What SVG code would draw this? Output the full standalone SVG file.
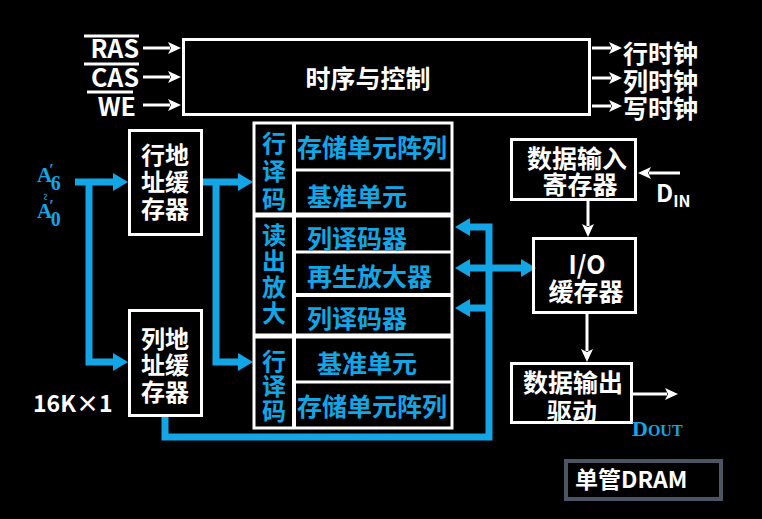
<svg xmlns="http://www.w3.org/2000/svg" width="762" height="519" viewBox="0 0 762 519">
<style>
.bg{fill:#000}
.box{fill:none;stroke:#fff;stroke-width:3}
.w{fill:#fff;font-family:"Noto Sans CJK SC","Liberation Sans",sans-serif;font-weight:bold}
.b{fill:#12a6e6;font-family:"Noto Sans CJK SC","Liberation Sans",sans-serif;font-weight:bold}
.serif{fill:#12a6e6;font-family:"Liberation Serif","DejaVu Serif",serif;font-weight:bold}
.wl{fill:none;stroke:#fff;stroke-width:3}
.bl{fill:none;stroke:#12a6e6;stroke-width:7}
.c{text-anchor:middle;dominant-baseline:central}
.m{dominant-baseline:central}
</style>
<defs>
<marker id="wa" markerUnits="userSpaceOnUse" markerWidth="14" markerHeight="14" refX="2" refY="7" orient="auto">
<path d="M0,1 L13,7 L0,13 L3,7 z" fill="#fff"/>
</marker>
<marker id="ba" markerUnits="userSpaceOnUse" markerWidth="16" markerHeight="18" refX="0" refY="9" orient="auto">
<path d="M0,0 L15,9 L0,18 z" fill="#12a6e6"/>
</marker>
</defs>
<rect class="bg" x="0" y="0" width="762" height="519"/>

<g id="connectors">
<path class="wl" d="M143,48 H170" marker-end="url(#wa)"/>
<path class="wl" d="M143,77 H170" marker-end="url(#wa)"/>
<path class="wl" d="M143,105 H170" marker-end="url(#wa)"/>
<path class="wl" d="M592,48 H611" marker-end="url(#wa)"/>
<path class="wl" d="M592,78 H611" marker-end="url(#wa)"/>
<path class="wl" d="M592,106 H611" marker-end="url(#wa)"/>
<path class="wl" d="M680,173 H649" marker-end="url(#wa)"/>
<path class="wl" d="M588,201 V226" marker-end="url(#wa)"/>
<path class="wl" d="M587,314 V351" marker-end="url(#wa)"/>
<path class="wl" d="M633,394 H667" marker-end="url(#wa)"/>
<path class="bl" d="M75,182 H113" marker-end="url(#ba)"/>
<path class="bl" d="M89,182 V362 H113" marker-end="url(#ba)"/>
<path class="bl" d="M202,182 H238" marker-end="url(#ba)"/>
<path class="bl" d="M216,182 V362 H238" marker-end="url(#ba)"/>
<path class="bl" d="M165,416 V437 H489 V227 H470" marker-end="url(#ba)"/>
<path class="bl" d="M489,268 H470" marker-end="url(#ba)"/>
<path class="bl" d="M489,268 H521" marker-end="url(#ba)"/>
<path class="bl" d="M489,308 H470" marker-end="url(#ba)"/>
</g>

<g id="signals">
<text class="w" x="139" y="58" font-size="25" text-anchor="end">RAS</text>
<line x1="84" y1="36" x2="139" y2="36" stroke="#fff" stroke-width="3"/>
<text class="w" x="139" y="87" font-size="25" text-anchor="end">CAS</text>
<line x1="84" y1="64" x2="139" y2="64" stroke="#fff" stroke-width="3"/>
<text class="w" x="136" y="116" font-size="25" text-anchor="end">WE</text>
<line x1="87" y1="92" x2="133" y2="92" stroke="#fff" stroke-width="3"/>
<text class="w m" x="623" y="52" font-size="25">行时钟</text>
<text class="w m" x="623" y="80" font-size="25">列时钟</text>
<text class="w m" x="623" y="107" font-size="25">写时钟</text>
</g>

<g id="timing">
<rect class="box" x="183.5" y="39.5" width="406" height="75"/>
<text class="w c" x="368" y="77" font-size="25">时序与控制</text>
</g>

<g id="addr-label">
<text class="serif" x="37" y="182" font-size="21">A<tspan font-size="16" dx="-3" dy="-7">′</tspan><tspan font-size="20" dx="-3" dy="15">6</tspan></text>
<text class="serif c" x="45" y="197" font-size="13" transform="rotate(90 45 197)">~</text>
<text class="serif" x="37" y="218" font-size="21">A<tspan font-size="16" dx="-3" dy="-7">′</tspan><tspan font-size="20" dx="-3" dy="15">0</tspan></text>
</g>

<g id="row-buffer">
<rect class="box" x="129.5" y="130.5" width="72" height="104"/>
<text class="w c" x="165" y="153" font-size="24">行地</text>
<text class="w c" x="165" y="180" font-size="24">址缓</text>
<text class="w c" x="165" y="207" font-size="24">存器</text>
</g>

<g id="col-buffer">
<rect class="box" x="129.5" y="310.5" width="72" height="105"/>
<text class="w c" x="165" y="337" font-size="24">列地</text>
<text class="w c" x="165" y="363" font-size="24">址缓</text>
<text class="w c" x="165" y="390" font-size="24">存器</text>
</g>

<text class="w" x="33" y="412" font-size="23" fill="#e6e6e6">16K×1</text>

<g id="array">
<rect class="box" x="254" y="123" width="198" height="305"/>
<line x1="294" y1="123" x2="294" y2="428" stroke="#fff" stroke-width="4"/>
<line x1="254" y1="215" x2="452" y2="215" stroke="#fff" stroke-width="5"/>
<line x1="254" y1="336" x2="452" y2="336" stroke="#fff" stroke-width="5"/>
<line x1="294" y1="170" x2="452" y2="170" stroke="#fff" stroke-width="3"/>
<line x1="294" y1="252" x2="452" y2="252" stroke="#fff" stroke-width="3"/>
<line x1="294" y1="295" x2="452" y2="295" stroke="#fff" stroke-width="4"/>
<line x1="294" y1="382" x2="452" y2="382" stroke="#fff" stroke-width="3"/>
<text class="b c" x="274" y="141" font-size="24">行</text>
<text class="b c" x="274" y="169" font-size="24">译</text>
<text class="b c" x="274" y="197" font-size="24">码</text>
<text class="b c" x="274" y="233" font-size="24">读</text>
<text class="b c" x="274" y="259" font-size="24">出</text>
<text class="b c" x="274" y="285" font-size="24">放</text>
<text class="b c" x="274" y="311" font-size="24">大</text>
<text class="b c" x="274" y="359" font-size="24">行</text>
<text class="b c" x="274" y="384" font-size="24">译</text>
<text class="b c" x="274" y="409" font-size="24">码</text>
<text class="b m" x="297" y="146" font-size="25">存储单元阵列</text>
<text class="b m" x="307" y="195" font-size="25">基准单元</text>
<text class="b m" x="307" y="237" font-size="25">列译码器</text>
<text class="b m" x="307" y="275" font-size="25">再生放大器</text>
<text class="b m" x="307" y="317" font-size="25">列译码器</text>
<text class="b m" x="317" y="362" font-size="25">基准单元</text>
<text class="b m" x="297" y="405" font-size="25">存储单元阵列</text>
</g>

<g id="input-reg">
<rect class="box" x="511.5" y="139.5" width="124" height="60"/>
<text class="w c" x="577" y="157" font-size="25">数据输入</text>
<text class="w c" x="580" y="183" font-size="25">寄存器</text>
</g>
<g id="din">
<text class="w" x="656" y="202" font-size="24">D<tspan font-size="16" dy="5">IN</tspan></text>
</g>

<g id="io-buffer">
<rect class="box" x="533.5" y="238.5" width="102" height="74"/>
<text class="w c" x="587" y="263" font-size="25">I/O</text>
<text class="w c" x="586" y="290" font-size="25">缓存器</text>
</g>

<g id="output-drv">
<rect class="box" x="511.5" y="363.5" width="120" height="59"/>
<text class="w c" x="573" y="381" font-size="25">数据输出</text>
<text class="w c" x="572" y="410" font-size="25">驱动</text>
</g>
<g id="dout">
<text class="serif" x="632" y="436" font-size="22">D<tspan font-size="16">OUT</tspan></text>
</g>

<g id="title">
<rect x="566" y="461" width="155" height="38" fill="none" stroke="#4b5563" stroke-width="4"/>
<text class="w" x="575" y="488" font-size="23">单管DRAM</text>
</g>
</svg>
